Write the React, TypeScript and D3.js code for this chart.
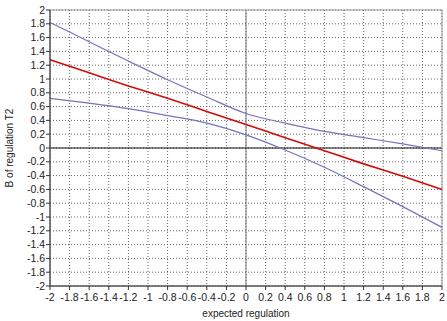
import React from 'react';
import * as d3 from 'd3';

const xPoints = [-2, -1.6, -1.2, -0.8, -0.4, 0, 0.4, 0.8, 1.2, 1.6, 2];
const regression = [1.28, 1.09, 0.9, 0.72, 0.53, 0.34, 0.15, -0.04, -0.23, -0.41, -0.6];
const upperBand = [1.82, 1.54, 1.26, 0.99, 0.74, 0.5, 0.36, 0.24, 0.15, 0.06, -0.04];
const lowerBand = [0.72, 0.65, 0.57, 0.47, 0.36, 0.19, -0.03, -0.28, -0.56, -0.85, -1.15];

const xTicks = d3.range(-10, 11).map(i => +(i * 0.2).toFixed(1));
const yTicks = d3.range(-10, 11).map(i => +(i * 0.2).toFixed(1));

const fmt = (v: number) => (v === 0 ? '0' : String(v));

export default function App() {
  const width = 447;
  const height = 321;
  const margin = { top: 10, right: 5, bottom: 35, left: 50 };
  const innerWidth = width - margin.left - margin.right;
  const innerHeight = height - margin.top - margin.bottom;

  const xScale = d3.scaleLinear().domain([-2, 2]).range([0, innerWidth]);
  const yScale = d3.scaleLinear().domain([-2, 2]).range([innerHeight, 0]);

  const lineGen = d3
    .line<number>()
    .x((_, i) => xScale(xPoints[i]))
    .y(d => yScale(d))
    .curve(d3.curveMonotoneX);

  const font = 'Arial, "Liberation Sans", sans-serif';

  return (
    <svg
      width={width}
      height={height}
      style={{ position: 'absolute', left: 0, top: 0, background: '#fff' }}
    >
      <g transform={`translate(${margin.left}, ${margin.top})`}>
        {/* grid */}
        {xTicks.map(t => (
          <line
            key={'gx' + t}
            x1={xScale(t)}
            x2={xScale(t)}
            y1={0}
            y2={innerHeight}
            stroke="#666"
            strokeWidth={1}
            strokeDasharray="1,2"
          />
        ))}
        {yTicks.map(t => (
          <line
            key={'gy' + t}
            x1={0}
            x2={innerWidth}
            y1={yScale(t)}
            y2={yScale(t)}
            stroke="#666"
            strokeWidth={1}
            strokeDasharray="1,2"
          />
        ))}

        {/* zero lines */}
        <line x1={xScale(0)} x2={xScale(0)} y1={0} y2={innerHeight} stroke="#777" strokeWidth={1} />
        <line x1={0} x2={innerWidth} y1={yScale(0)} y2={yScale(0)} stroke="#111" strokeWidth={1} />

        {/* frame */}
        <rect x={0} y={0} width={innerWidth} height={innerHeight} fill="none" stroke="#999" strokeWidth={1} />

        {/* lines */}
        <path d={lineGen(upperBand) || ''} fill="none" stroke="#7474bb" strokeWidth={1.2} />
        <path d={lineGen(lowerBand) || ''} fill="none" stroke="#7474bb" strokeWidth={1.2} />
        <path d={lineGen(regression) || ''} fill="none" stroke="#d40a0a" strokeWidth={1.6} />

        {/* axes */}
        <line x1={0} x2={0} y1={0} y2={innerHeight} stroke="#333" strokeWidth={1} />
        <line x1={0} x2={innerWidth} y1={innerHeight} y2={innerHeight} stroke="#333" strokeWidth={1} />
        {yTicks.map(t => (
          <g key={'ty' + t} transform={`translate(0, ${yScale(t)})`}>
            <line x1={-4} x2={0} stroke="#333" />
            <text
              x={-5}
              dy="0.35em"
              textAnchor="end"
              fontFamily={font}
              fontSize={10.5}
              fill="#222"
            >
              {fmt(t)}
            </text>
          </g>
        ))}
        {xTicks.map(t => (
          <g key={'tx' + t} transform={`translate(${xScale(t)}, ${innerHeight})`}>
            <line y1={0} y2={4} stroke="#333" />
            <text
              y={15}
              textAnchor="middle"
              fontFamily={font}
              fontSize={10.5}
              fill="#222"
            >
              {fmt(t)}
            </text>
          </g>
        ))}

        <text
          x={xScale(0)}
          y={innerHeight + 31}
          textAnchor="middle"
          fontFamily={font}
          fontSize={10}
          fill="#222"
        >
          expected regulation
        </text>
        <text
          transform={`translate(${-37}, ${yScale(0)}) rotate(-90)`}
          textAnchor="middle"
          fontFamily={font}
          fontSize={10}
          fill="#222"
        >
          B of regulation T2
        </text>
      </g>
    </svg>
  );
}
